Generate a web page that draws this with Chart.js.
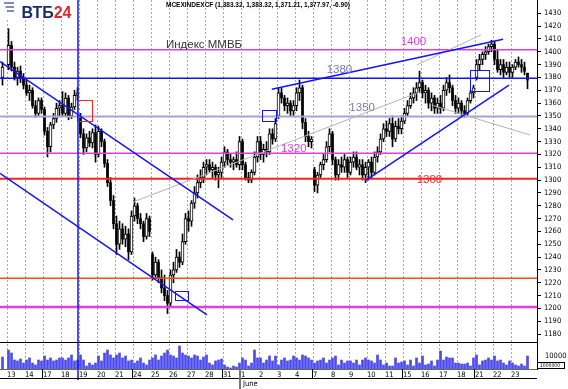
<!DOCTYPE html>
<html>
<head>
<meta charset="utf-8">
<script src="https://cdn.jsdelivr.net/npm/chart.js@4.4.1/dist/chart.umd.min.js"></script>
<style>body{margin:0;background:#fff}canvas{display:block}</style>
</head>
<body>
<canvas id="myChart" width="568" height="389"></canvas>
<script>
// trading days, May 13 .. June 23
const dayLabels = ['13','14','17','18','19','20','21','24','25','26','27','28','31','1','2','3','4','7','8','9','10','11','15','16','17','18','21','22','23'];
const weekStarts = [2, 7, 12, 17, 22, 26];
const monthStart = 13;

// hourly-ish candles: one before the 13th, then 6 per day
const opens = [1380,
  1390,1405,1388,1380,1385,1379, 1374,1368,1370,1358,1352,1362, 1355,1338,1326,1343,1348,1356,
  1358,1352,1364,1350,1357,1366, 1350,1336,1325,1333,1329,1337, 1320,1338,1330,1313,1298,1284,
  1266,1250,1262,1254,1258,1244, 1272,1280,1270,1266,1256,1270, 1242,1226,1236,1224,1216,1210,
  1204,1226,1230,1240,1236,1252, 1270,1268,1282,1290,1298,1302, 1310,1312,1308,1310,1304,1306,
  1314,1322,1316,1314,1316,1312, 1330,1312,1302,1300,1306,1318, 1330,1320,1324,1322,1336,1332,
  1350,1368,1364,1358,1360,1354, 1358,1368,1372,1345,1334,1330, 1308,1296,1304,1312,1316,1326,
  1336,1316,1304,1312,1310,1316, 1306,1314,1318,1310,1312,1304, 1310,1314,1306,1318,1322,1332,
  1340,1338,1344,1332,1342,1340, 1346,1352,1358,1364,1368,1372, 1376,1368,1370,1360,1364,1356,
  1360,1356,1370,1376,1372,1362, 1356,1360,1354,1352,1362,1368, 1380,1390,1394,1398,1400,1404,
  1406,1394,1386,1390,1384,1388, 1384,1388,1392,1390,1388,1383.32];
const highs = [1392,
  1418,1408,1392,1388,1389,1383, 1378,1374,1372,1362,1364,1364, 1357,1341,1345,1352,1360,1362,
  1369,1368,1366,1360,1370,1372, 1352,1340,1336,1338,1340,1343, 1342,1340,1332,1316,1302,1288,
  1272,1268,1266,1264,1262,1276, 1286,1282,1274,1268,1274,1272, 1244,1240,1238,1230,1226,1214,
  1230,1236,1246,1244,1258,1274, 1276,1284,1295,1304,1308,1314, 1316,1316,1314,1312,1310,1318,
  1326,1324,1320,1318,1322,1334, 1332,1314,1306,1308,1322,1334, 1334,1328,1330,1340,1340,1348,
  1372,1372,1366,1364,1362,1362, 1372,1378,1374,1348,1338,1334, 1310,1306,1314,1320,1330,1340,
  1338,1318,1316,1318,1320,1318, 1318,1322,1322,1316,1316,1314, 1316,1318,1322,1326,1336,1344,
  1346,1348,1350,1346,1348,1350, 1356,1362,1368,1372,1376,1385, 1378,1374,1372,1368,1366,1364,
  1366,1374,1380,1382,1374,1366, 1364,1362,1358,1364,1370,1374, 1394,1398,1400,1404,1406,1409,
  1408,1402,1394,1394,1392,1392, 1390,1394,1396,1394,1392,1383.32];
const lows = [1374,
  1386,1385,1378,1374,1376,1371, 1366,1362,1356,1349,1350,1352, 1335,1318,1322,1340,1345,1350,
  1350,1350,1347,1348,1355,1362, 1333,1320,1322,1326,1325,1314, 1318,1326,1310,1295,1280,1262,
  1242,1246,1250,1248,1238,1242, 1268,1266,1262,1252,1254,1256, 1222,1224,1220,1212,1206,1196,
  1202,1220,1228,1232,1234,1250, 1260,1264,1278,1286,1294,1298, 1304,1306,1302,1300,1294,1302,
  1310,1312,1310,1308,1310,1308, 1308,1300,1298,1298,1304,1314, 1316,1314,1318,1320,1328,1330,
  1348,1360,1354,1352,1350,1350, 1354,1362,1340,1330,1326,1325, 1291,1290,1302,1308,1314,1322,
  1312,1300,1300,1306,1306,1302, 1304,1310,1308,1304,1300,1298, 1300,1301,1304,1314,1320,1330,
  1334,1334,1326,1330,1336,1336, 1344,1350,1356,1360,1362,1368, 1364,1360,1356,1354,1352,1352,
  1352,1354,1366,1368,1358,1352, 1352,1350,1349,1350,1360,1364, 1378,1386,1390,1394,1398,1400,
  1390,1384,1382,1380,1382,1380, 1380,1386,1388,1384,1382,1371.21];
const closes = [1388,
  1405,1388,1380,1385,1379,1374, 1368,1370,1358,1352,1362,1355, 1338,1326,1343,1348,1356,1358,
  1352,1364,1350,1357,1366,1368, 1336,1325,1333,1329,1337,1320, 1338,1330,1313,1298,1284,1266,
  1250,1262,1254,1258,1244,1272, 1280,1270,1266,1256,1270,1260, 1226,1236,1224,1216,1210,1204,
  1226,1230,1240,1236,1252,1270, 1268,1282,1290,1298,1302,1310, 1312,1308,1310,1304,1306,1314,
  1322,1316,1314,1316,1312,1330, 1312,1302,1300,1306,1318,1330, 1320,1324,1322,1336,1332,1344,
  1368,1364,1358,1360,1354,1358, 1368,1372,1345,1334,1330,1332, 1296,1304,1312,1316,1326,1336,
  1316,1304,1312,1310,1316,1306, 1314,1318,1310,1312,1304,1310, 1314,1306,1318,1322,1332,1340,
  1338,1344,1332,1342,1340,1346, 1352,1358,1364,1368,1372,1376, 1368,1370,1360,1364,1356,1360,
  1356,1370,1376,1372,1362,1356, 1360,1354,1352,1362,1368,1372, 1390,1394,1398,1400,1404,1406,
  1394,1386,1390,1384,1388,1384, 1388,1392,1390,1388,1384.87,1377.97];
const volumes = [9200,
  14600,12300,6900,6200,7700,4600, 6900,8500,4600,3100,6900,6200, 10000,6900,8500,6200,6900,8500,
  8500,6900,8500,10800,6200,6900, 10800,6900,2300,4600,3100,4600, 10000,6200,12300,14600,10800,8500,
  10800,12300,8500,10000,6200,6900, 4600,6200,8500,4600,3100,6900, 8500,10800,6900,10000,12300,14600,
  10800,10000,8500,17700,12300,10800, 10000,8500,10800,10000,6900,9200, 10800,4600,3100,6200,6900,7700,
  3100,1500,800,2300,1500,4600, 8500,6900,2300,4600,14600,8500, 8500,4600,6900,10000,6200,10000,
  3100,6900,8500,6200,6900,10000, 8500,6900,10800,10000,8500,6900, 4600,6200,6900,8500,4600,6900,
  8500,10000,3100,6900,4600,6200, 6200,4600,6900,3100,6900,8500, 6900,6200,4600,10800,6900,3100,
  4600,2300,2300,8500,4600,5400, 6200,3100,6900,2300,8500,4600, 10000,3100,3800,6200,2300,6900,
  13800,6900,9200,8500,8500,4600, 4600,3800,3800,4600,2300,8500, 10800,3100,6200,6900,8500,6900,
  10000,6200,6900,4600,3100,6200, 4600,3100,2300,3800,2300,10000];

const priceTicks = [1430,1420,1410,1400,1390,1380,1370,1360,1350,1340,1330,1320,1310,1300,
  1290,1280,1270,1260,1250,1240,1230,1220,1210,1200,1190,1180];

// horizontal levels as drawn on the picture
const levels = [1401.5, 1379.3, 1349.5, 1321, 1301, 1223.5, 1201];
// trend lines: [day1, price1, day2, price2]
const trendLines = [
  [-0.389, 1392.3, 12.556, 1268.9],
  [-0.389, 1305.3, 11.11, 1194.9],
  [14.71, 1370.8, 27.56, 1409.7],
  [19.89, 1299.3, 27.89, 1374.1],
  [7.0, 1282.9, 22.94, 1368.7],
  [22.76, 1389.7, 26.33, 1413.1],
  [23.59, 1358.5, 29.06, 1335.1]
];
const boxes = [
  [3.89, 1362.4, 4.74, 1346.3],
  [14.18, 1354.6, 14.94, 1346.3],
  [25.72, 1385.8, 26.78, 1369.4],
  [9.33, 1213.6, 10.07, 1206.5]
];
const markerDay = 3.944;
const notes = [
  ['Индекс ММВБ', 8.83, 1405.8],
  ['1400', 21.87, 1407.9],
  ['1380', 17.76, 1385.8],
  ['1350', 19.02, 1356.0],
  ['1320', 15.22, 1324.0],
  ['1300', 22.76, 1300.1]
];
const title = 'MCEXINDEXCF (1,383.32, 1,383.32, 1,371.21, 1,377.97, -6.90)';

// styles
const levelColors = ['#e23de2', '#1010ff', '#a3a3d6', '#e23de2', '#ff2020', '#ff4a10', '#e23de2'];
const levelWidths = [1.5, 1.5, 2, 1.5, 2, 1.5, 2.5];
const trendColors = ['#1414ff', '#1414ff', '#1414ff', '#1414ff', '#b4b4b4', '#b4b4b4', '#b4b4b4'];
const trendWidths = [1.5, 1.5, 1.5, 1.5, 1, 1, 1];
const boxColors = ['#ff2020', '#1414ff', '#1414ff', '#1414ff'];
const noteColors = ['#333333', '#e23de2', '#7276c4', '#7b7bb8', '#e23de2', '#ff2a2a'];

const X_MIN = -0.389, X_MAX = 29.444;
const Y_MIN = 1152.76, Y_MAX = 1440.37;
const PANEL_SPLIT = 1174;
const VOL_MAX = 283846;
const FONT = "'Liberation Sans', Arial, sans-serif";
const NARROW = "'Liberation Sans Narrow', 'DejaVu Sans Condensed', 'Liberation Sans', Arial, sans-serif";

const xs = opens.map((_, i) => i === 0 ? -0.25 : Math.floor((i - 1) / 6) + ((i - 1) % 6 + 0.5) / 6);
const wickData = xs.map((x, i) => ({x: x, y: [lows[i], highs[i]]}));
const upData = [], downData = [];
xs.forEach((x, i) => {
  (closes[i] >= opens[i] ? upData : downData).push({x: x, y: [opens[i], closes[i]]});
});
const volData = xs.map((x, i) => ({x: x, y: volumes[i]}));

const levelSets = levels.map((p, i) => ({
  type: 'line', data: [{x: X_MIN, y: p}, {x: X_MAX, y: p}],
  borderColor: levelColors[i], borderWidth: levelWidths[i], pointRadius: 0, order: 3
}));
const trendSets = trendLines.map((t, i) => ({
  type: 'line', data: [{x: t[0], y: t[1]}, {x: t[2], y: t[3]}],
  borderColor: trendColors[i], borderWidth: trendWidths[i], pointRadius: 0, order: 1
}));

const overlay = {
  id: 'overlay',
  beforeDraw(chart) {
    const c = chart.ctx;
    c.save();
    c.fillStyle = '#fff';
    c.fillRect(0, 0, chart.width, chart.height);
    c.restore();
  },
  afterDatasetsDraw(chart) {
    const c = chart.ctx;
    const a = chart.chartArea;
    const sx = chart.scales.x, sy = chart.scales.y, sv = chart.scales.yv;
    c.save();

    // rectangles
    c.lineWidth = 1;
    boxes.forEach((b, i) => {
      const x1 = Math.round(sx.getPixelForValue(b[0])) + 0.5;
      const x2 = Math.round(sx.getPixelForValue(b[2])) + 0.5;
      const y1 = Math.round(sy.getPixelForValue(b[1])) + 0.5;
      const y2 = Math.round(sy.getPixelForValue(b[3])) + 0.5;
      c.strokeStyle = boxColors[i];
      c.strokeRect(x1, y1, x2 - x1, y2 - y1);
    });

    // vertical marker
    const mx = sx.getPixelForValue(markerDay);
    c.strokeStyle = '#1414ff';
    c.lineWidth = 1.5;
    c.beginPath(); c.moveTo(mx, 0); c.lineTo(mx, 380); c.stroke();

    // price / volume separator and bottom lines
    const sp = Math.round(sy.getPixelForValue(PANEL_SPLIT)) + 0.5;
    c.strokeStyle = '#000';
    c.lineWidth = 1;
    c.beginPath(); c.moveTo(0, sp); c.lineTo(a.right, sp); c.stroke();
    c.strokeStyle = '#6b6b3a';
    c.beginPath(); c.moveTo(0, a.bottom + 0.5); c.lineTo(a.right, a.bottom + 0.5); c.stroke();
    c.strokeStyle = '#000';
    c.beginPath(); c.moveTo(0, 378.5); c.lineTo(a.right, 378.5); c.stroke();
    weekStarts.forEach(d => {
      const wx = Math.round(sx.getPixelForValue(d)) - 0.5;
      c.beginPath(); c.moveTo(wx, a.bottom); c.lineTo(wx, 379); c.stroke();
    });
    const jx = Math.round(sx.getPixelForValue(monthStart)) - 1;
    c.strokeStyle = '#777';
    c.lineWidth = 2;
    c.beginPath(); c.moveTo(jx, a.bottom); c.lineTo(jx, 389); c.stroke();
    c.fillStyle = '#000';
    c.font = '7.5px ' + NARROW;
    c.textBaseline = 'middle';
    c.textAlign = 'left';
    c.fillText('June', jx + 3, 384.5);

    // volume scale label
    c.fillText('10000', 545, sv.getPixelForValue(10000));
    c.strokeStyle = '#000';
    c.lineWidth = 1;
    c.strokeRect(537.5, 362.5, 27, 6);
    c.font = '5px ' + NARROW;
    c.fillText('1000000', 540, 366, 23);

    // level notes
    notes.forEach((n, i) => {
      c.fillStyle = noteColors[i];
      c.font = '11.5px ' + FONT;
      c.fillText(n[0], sx.getPixelForValue(n[1]), sy.getPixelForValue(n[2]));
    });

    // header
    c.fillStyle = '#000';
    c.font = 'bold 6.5px ' + FONT;
    c.fillText(title, 166, 5.5, 206);

    // logo
    c.fillStyle = '#fff';
    c.fillRect(0, 0, 76, 20);
    c.strokeStyle = '#5a6690';
    c.lineWidth = 1.5;
    for (let k = 0; k < 3; k++) {
      c.beginPath();
      c.moveTo(14, 3 + k * 4);
      c.lineTo(4 + k * 1.5, 3 + k * 4);
      c.stroke();
    }
    c.textBaseline = 'alphabetic';
    c.font = 'bold 16px ' + FONT;
    c.fillStyle = '#1b2b6b';
    c.fillText('ВТБ', 21.5, 18.3);
    const w = c.measureText('ВТБ').width;
    c.fillStyle = '#e3262d';
    c.fillText('24', 21.5 + w, 18.3);
    c.restore();
  }
};

new Chart(document.getElementById('myChart'), {
  type: 'bar',
  data: {
    datasets: [
      ...trendSets,
      ...levelSets,
      {data: upData, backgroundColor: '#fff', borderColor: '#000', borderWidth: 1, borderSkipped: false,
        barThickness: 3, minBarLength: 1, grouped: false, order: 4},
      {data: downData, backgroundColor: '#000', barThickness: 2, minBarLength: 1, grouped: false, order: 4},
      {data: wickData, backgroundColor: '#000', barThickness: 1, grouped: false, order: 5},
      {data: volData, yAxisID: 'yv', backgroundColor: '#4b4bf0', barThickness: 2, grouped: false, order: 9}
    ]
  },
  options: {
    responsive: false,
    animation: false,
    devicePixelRatio: 1,
    layout: {padding: 0},
    plugins: {legend: {display: false}, tooltip: {enabled: false}},
    scales: {
      x: {
        type: 'linear', min: X_MIN, max: X_MAX, offset: false,
        afterBuildTicks: s => { s.ticks = dayLabels.map((_, i) => ({value: i})); },
        afterFit: s => { s.height = 20; s.paddingLeft = 0; s.paddingRight = 0; },
        ticks: {
          callback: (v, i) => dayLabels[i], align: 'start', autoSkip: false, maxRotation: 0,
          padding: 2, color: '#000', font: {family: NARROW, size: 7.5}
        },
        grid: {offset: false, color: '#a8a8a8', lineWidth: 1, drawTicks: false},
        border: {display: false, dash: [2, 2]}
      },
      y: {
        position: 'right', min: Y_MIN, max: Y_MAX,
        afterBuildTicks: s => { s.ticks = priceTicks.map(v => ({value: v})); },
        afterFit: s => { s.width = 31; s.paddingTop = 0; s.paddingBottom = 0; },
        ticks: {callback: v => String(v), color: '#000', padding: 3, font: {family: NARROW, size: 7.5}},
        grid: {drawOnChartArea: false, drawTicks: true, tickLength: 4, tickColor: '#000'},
        border: {display: true, color: '#000', width: 1}
      },
      yv: {display: false, min: 0, max: VOL_MAX}
    }
  },
  plugins: [overlay]
});
</script>
</body>
</html>
